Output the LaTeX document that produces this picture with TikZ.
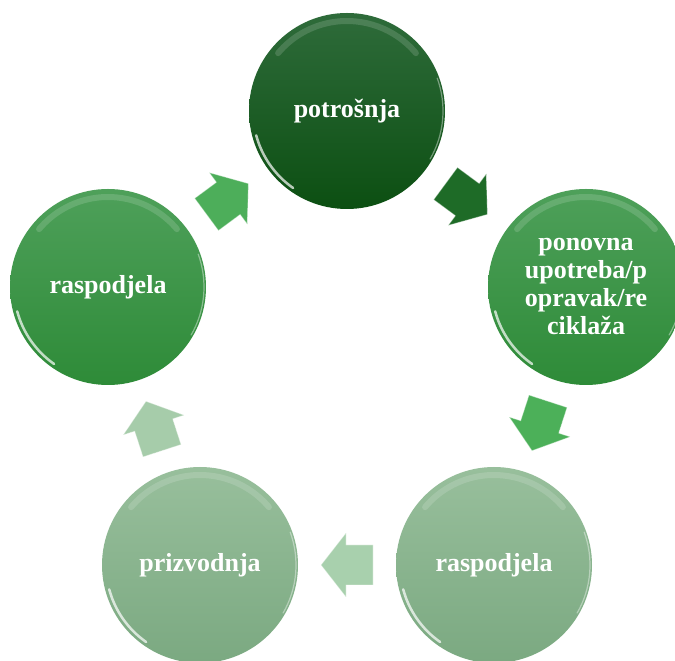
\documentclass[tikz,border=0pt]{standalone}
\usepackage{fontspec}
\setmainfont{Liberation Serif}
\usetikzlibrary{calc}
\definecolor{darkT}{HTML}{2E6B3A}
\definecolor{darkB}{HTML}{0C4F12}
\definecolor{midT}{HTML}{4EA05A}
\definecolor{midB}{HTML}{2E8B38}
\definecolor{paleT}{HTML}{98BF9C}
\definecolor{paleB}{HTML}{7BA981}
\definecolor{arrA}{HTML}{4DAE5A}
\definecolor{arrB}{HTML}{1E6B27}
\definecolor{arrC}{HTML}{4CB059}
\definecolor{arrD}{HTML}{A8D0AD}
\definecolor{arrE}{HTML}{A6CCAA}
\begin{document}
\begin{tikzpicture}[x=1pt, y=1pt,
  krug/.style={circle, minimum size=196pt, inner sep=0pt, text=white, align=center,
    font=\fontsize{26}{28}\selectfont\bfseries},
  sjaj/.style={white, opacity=#1, line cap=round},
  strelica/.style={fill=#1, draw=white, draw opacity=.4, line width=.8pt, line join=round}]
\useasboundingbox (0,0) rectangle (675,661);
\node[krug, top color=darkT, bottom color=darkB](potrosnja) at (347,550) {potrošnja};
\node[krug, top color=midT, bottom color=midB](popravak) at (586,374) {ponovna\\upotreba/p\\opravak/re\\ciklaža};
\node[krug, top color=paleT, bottom color=paleB](raspodjelaD) at (494,96) {raspodjela};
\node[krug, top color=paleT, bottom color=paleB](prizvodnja) at (200,96) {prizvodnja};
\node[krug, top color=midT, bottom color=midB](raspodjelaL) at (108,374) {raspodjela};

\foreach \n in {potrosnja, popravak, raspodjelaD, prizvodnja, raspodjelaL}{
  \draw[sjaj=.15, line width=6pt]([shift={(\n.center)}]40:90) arc (40:140:90);
  \draw[sjaj=.7, line width=2.5pt]([shift={(\n.center)}]195:94) arc (195:235:94);
  \draw[sjaj=.4, line width=1.2pt]([shift={(\n.center)}]-30:96) arc (-30:20:96);
}

\foreach \a/\b/\r/\c in {raspodjelaL/potrosnja/36.4/arrA, potrosnja/popravak/-36.4/arrB,
  popravak/raspodjelaD/-108/arrC, raspodjelaD/prizvodnja/180/arrD, prizvodnja/raspodjelaL/108/arrE}
  \filldraw[strelica=\c, shift={($(\a)!.5!(\b)$)}, rotate=\r]
    (-26,-20) -- (1,-20) -- (1,-32) -- (26,0) -- (1,32) -- (1,20) -- (-26,20) -- cycle;

\end{tikzpicture}
\end{document}
